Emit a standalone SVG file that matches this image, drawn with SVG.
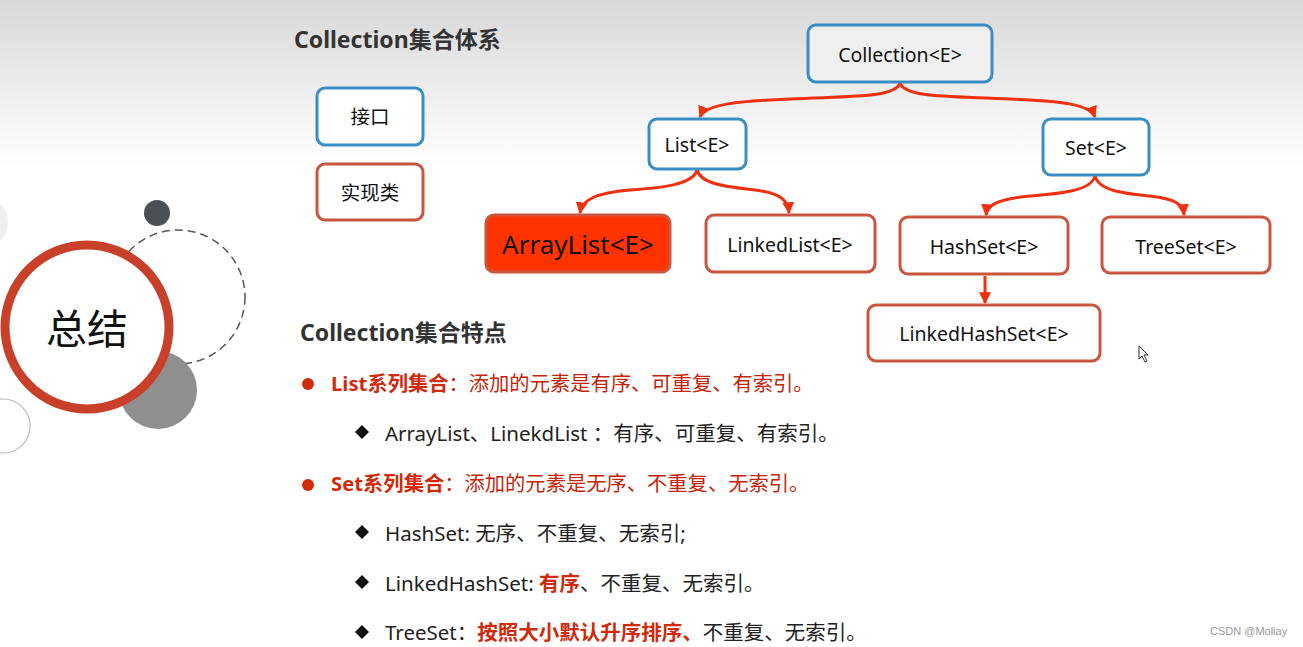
<svg xmlns="http://www.w3.org/2000/svg" width="1303" height="647" viewBox="0 0 1303 647">
<defs>
<linearGradient id="bg" x1="0" y1="0" x2="0" y2="1">
<stop offset="0" stop-color="#d8d8d8"/>
<stop offset="0.2" stop-color="#f7f7f7"/>
<stop offset="0.26" stop-color="#ffffff"/>
</linearGradient>
<marker id="ah" viewBox="0 0 10 10" refX="9" refY="5" markerWidth="4" markerHeight="4" orient="auto">
<path d="M0,0 L10,5 L0,10 z" fill="#f0300e"/>
</marker>
<style>
.t{font-family:"Noto Sans","Noto Sans CJK SC",sans-serif;}
.ifc{fill:#ffffff;stroke:#3a8ec3;stroke-width:3;}
.impl{fill:#ffffff;stroke:#c9563e;stroke-width:3;}
.nt{font-family:"Noto Sans","Noto Sans CJK SC",sans-serif;font-size:19.5px;fill:#111;text-anchor:middle;dominant-baseline:central;}
.con{fill:none;stroke:#f0300e;stroke-width:3;marker-end:url(#ah);}
.h{font-family:"Noto Sans","Noto Sans CJK SC",sans-serif;font-size:23px;font-weight:bold;fill:#333;}
.b{font-family:"Noto Sans","Noto Sans CJK SC",sans-serif;font-size:20.3px;}
.d{font-family:"Noto Sans","Noto Sans CJK SC",sans-serif;font-size:20.5px;}
.red{fill:#c42508;}
.rb{fill:#d02a0a;font-weight:bold;}
.blk{fill:#222;}
</style>
</defs>
<rect x="0" y="0" width="1303" height="647" fill="url(#bg)"/>

<!-- decorative circles -->
<g id="decor">
<circle cx="-18" cy="222" r="26" fill="#efefef"/>
<circle cx="178" cy="297" r="67" fill="none" stroke="#555" stroke-width="1.5" stroke-dasharray="8 5"/>
<circle cx="157" cy="213" r="13" fill="#4a4f53"/>
<circle cx="158" cy="390" r="39" fill="#8f8f8f"/>
<circle cx="3" cy="426" r="27" fill="none" stroke="#bbbbbb" stroke-width="1.2"/>
<circle cx="87" cy="327" r="82" fill="#ffffff" stroke="#c9402a" stroke-width="9"/>
<text x="87" y="328" class="t" font-size="41" fill="#111" text-anchor="middle" dominant-baseline="central">总结</text>
</g>

<text x="294" y="48" class="h">Collection集合体系</text>

<g id="legend-interface">
<rect x="317" y="88" width="106" height="57" rx="8" class="ifc"/>
<text x="370" y="116" class="nt">接口</text>
</g>
<g id="legend-impl">
<rect x="317" y="164" width="106" height="56" rx="8" class="impl"/>
<text x="370" y="192" class="nt">实现类</text>
</g>

<g id="connectors">
<path class="con" d="M900,83 C895,98 850,96 790,99 C740,101 705,104 700,117"/>
<path class="con" d="M900,83 C905,98 950,96 1010,99 C1060,101 1090,104 1095,117"/>
<path class="con" d="M697,170 C693,185 660,188 630,190 C595,193 582,200 580,213"/>
<path class="con" d="M697,170 C701,185 730,187 755,190 C780,193 788,200 789,213"/>
<path class="con" d="M1095,176 C1091,192 1055,194 1030,196 C1000,199 987,204 986,215"/>
<path class="con" d="M1095,176 C1099,192 1130,194 1150,196 C1175,199 1183,204 1184,215"/>
<path class="con" d="M985,276 L985,303"/>
</g>

<g id="n-collection">
<rect x="808" y="25" width="184" height="57" rx="8" class="ifc" style="fill:#efefef"/>
<text x="900" y="54" class="nt">Collection&lt;E&gt;</text>
</g>
<g id="n-list">
<rect x="649" y="119" width="97" height="50" rx="8" class="ifc"/>
<text x="697" y="144" class="nt">List&lt;E&gt;</text>
</g>
<g id="n-set">
<rect x="1043" y="119" width="106" height="56" rx="8" class="ifc"/>
<text x="1096" y="147" class="nt">Set&lt;E&gt;</text>
</g>
<g id="n-arraylist">
<rect x="486" y="215" width="184" height="57" rx="8" fill="#ff3300" stroke="#c9563e" stroke-width="3"/>
<text x="578" y="244" class="nt" style="font-size:26px">ArrayList&lt;E&gt;</text>
</g>
<g id="n-linkedlist">
<rect x="706" y="215" width="169" height="57" rx="8" class="impl"/>
<text x="790" y="244" class="nt">LinkedList&lt;E&gt;</text>
</g>
<g id="n-hashset">
<rect x="900" y="217" width="168" height="57" rx="8" class="impl"/>
<text x="984" y="246" class="nt">HashSet&lt;E&gt;</text>
</g>
<g id="n-treeset">
<rect x="1102" y="217" width="168" height="56" rx="8" class="impl"/>
<text x="1186" y="246" class="nt">TreeSet&lt;E&gt;</text>
</g>
<g id="n-linkedhashset">
<rect x="868" y="305" width="232" height="56" rx="8" class="impl"/>
<text x="984" y="333" class="nt">LinkedHashSet&lt;E&gt;</text>
</g>

<!-- mouse cursor -->
<path d="M1139,346 L1139,359 L1142,356 L1145,362 L1147,361 L1144,355 L1148,355 Z" fill="#fff" stroke="#333" stroke-width="1"/>

<text x="300" y="341" class="h">Collection集合特点</text>

<g id="features">
<circle cx="308" cy="384" r="6" fill="#d42a0a"/>
<text x="331" y="391" class="b"><tspan class="rb">List系列集合</tspan><tspan class="red">：添加的元素是有序、可重复、有索引。</tspan></text>

<path d="M362,425 L369,432 L362,439 L355,432 Z" fill="#111"/>
<text x="385" y="441" class="d blk">ArrayList、LinekdList ：有序、可重复、有索引。</text>

<circle cx="308" cy="485" r="6" fill="#d42a0a"/>
<text x="331" y="491" class="b"><tspan class="rb">Set系列集合</tspan><tspan class="red">：添加的元素是无序、不重复、无索引。</tspan></text>

<path d="M362,525 L369,532 L362,539 L355,532 Z" fill="#111"/>
<text x="385" y="541" class="d blk">HashSet: 无序、不重复、无索引;</text>

<path d="M362,575 L369,582 L362,589 L355,582 Z" fill="#111"/>
<text x="385" y="591" class="d blk">LinkedHashSet: <tspan class="rb">有序</tspan>、不重复、无索引。</text>

<path d="M362,625 L369,632 L362,639 L355,632 Z" fill="#111"/>
<text x="385" y="640" class="d blk">TreeSet：<tspan class="rb">按照大小默认升序排序、</tspan>不重复、无索引。</text>
</g>

<text x="1210" y="635" font-family="Liberation Sans, sans-serif" font-size="11" fill="#999">CSDN @Moliay</text>
</svg>
